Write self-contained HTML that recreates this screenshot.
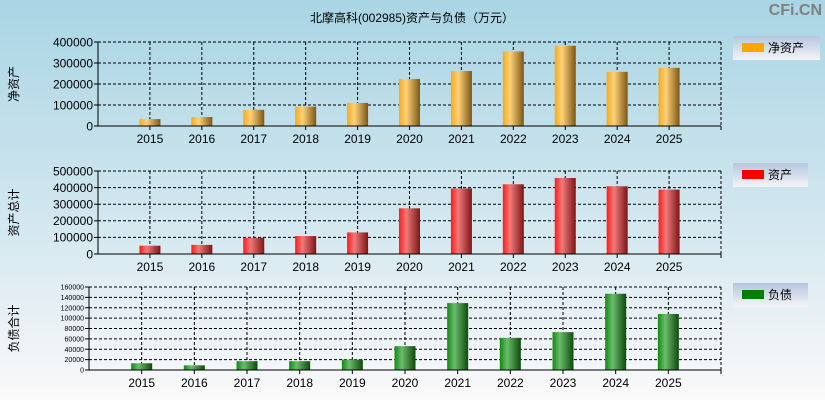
<!DOCTYPE html>
<html><head><meta charset="utf-8"><style>
body{margin:0;width:825px;height:400px;overflow:hidden}
svg{display:block;font-family:"Liberation Sans","Noto Sans CJK SC",sans-serif}
</style></head><body>
<svg id="c" width="825" height="400">
<defs>
<linearGradient id="bg" x1="0" y1="0" x2="0" y2="1"><stop offset="0" stop-color="#a9d5e4"/><stop offset="0.55" stop-color="#d2e7ef"/><stop offset="1" stop-color="#fbf9fa"/></linearGradient>
<linearGradient id="go" x1="0" x2="1"><stop offset="0" stop-color="#f7a91c"/><stop offset="0.35" stop-color="#fdd27a"/><stop offset="1" stop-color="#7d5613"/></linearGradient>
<linearGradient id="gr" x1="0" x2="1"><stop offset="0" stop-color="#ff1a1a"/><stop offset="0.35" stop-color="#f07a7a"/><stop offset="1" stop-color="#7d1515"/></linearGradient>
<linearGradient id="gg" x1="0" x2="1"><stop offset="0" stop-color="#118a11"/><stop offset="0.35" stop-color="#6cbc6c"/><stop offset="1" stop-color="#0d4a0d"/></linearGradient>
<linearGradient id="lg" x1="0" y1="0" x2="0" y2="1"><stop offset="0" stop-color="#b6c6df"/><stop offset="1" stop-color="#f4f4f8"/></linearGradient>
</defs>
<rect width="825" height="400" fill="url(#bg)"/>
<text x="412" y="22" font-size="12" text-anchor="middle">北摩高科(002985)资产与负债（万元）</text>
<text x="822" y="15" font-size="16" font-weight="bold" fill="#808080" text-anchor="end">CFi.CN</text>
</svg>
<script>
const years=["2015","2016","2017","2018","2019","2020","2021","2022","2023","2024","2025"];
const netAssets=[33000,43000,77000,92000,110000,224000,262000,355000,382000,258000,277000];
const totalAssets=[50000,55000,98000,108000,130000,275000,395000,420000,458000,408000,388000];
const liabilities=[13000,9000,17000,17000,20000,46000,129000,62000,73000,147000,108000];
const ticks1=[0,100000,200000,300000,400000];
const ticks2=[0,100000,200000,300000,400000,500000];
const ticks3=[0,20000,40000,60000,80000,100000,120000,140000,160000];
const svg=document.getElementById('c');
const NS='http://www.w3.org/2000/svg';
function mk(t,a,p){const e=document.createElementNS(NS,t);for(const k in a)e.setAttribute(k,a[k]);(p||svg).appendChild(e);return e;}
function panel(o){
  const g=mk('g',{});
  
  
  const x0=o.x0,x1=721,y0=o.y0,y1=o.y1,max=o.ticks[o.ticks.length-1];
  const slot=(x1-x0)/12;
  const X=i=>x0+slot*(i+1);
  const Y=v=>y1-(v/max)*(y1-y0);
  mk('rect',{x:x0,y:y0,width:x1-x0,height:y1-y0,fill:'none'},g);
  o.ticks.forEach(t=>{
    const y=Y(t);
    if(t>0){const l=mk('line',{x1:x0,x2:x1,y1:y,y2:y,stroke:'#000','stroke-dasharray':'3,2'},g);
      }
    mk('line',{x1:x0-4,x2:x0,y1:y,y2:y,stroke:'#000'},g);
    const tx=mk('text',{x:x0-5,y:y+o.fs*0.36,'font-size':o.fs,'text-anchor':'end'},g);tx.textContent=t;
    
  });
  years.forEach((yr,i)=>{
    const x=X(i);
    const l=mk('line',{x1:x,x2:x,y1:y0,y2:y1,stroke:'#000','stroke-dasharray':'3,2'},g);
    
    mk('line',{x1:x,x2:x,y1:y1,y2:y1+4,stroke:'#000'},g);
    const tx=mk('text',{x:x,y:y1+17,'font-size':12,'text-anchor':'middle'},g);tx.textContent=yr;
    
    const v=o.data[i];
    const b=mk('rect',{x:x-10.5,y:Y(v),width:21,height:y1-Y(v),fill:o.fill},g);
    
    
  });
  mk('line',{x1:x1,x2:x1,y1:y0,y2:y1,stroke:'#000','stroke-dasharray':'3,2'},g);
  mk('line',{x1:x0,x2:x1,y1:y0,y2:y0,stroke:'#000','stroke-dasharray':'3,2'},g);
  mk('line',{x1:x0,x2:x0,y1:y0,y2:y1,stroke:'#000'},g);
  mk('line',{x1:x0,x2:x1,y1:y1,y2:y1,stroke:'#000'},g);
  mk('line',{x1:x1,x2:x1,y1:y1,y2:y1+4,stroke:'#000'},g);
  const yt=mk('text',{x:0,y:0,'font-size':12,'text-anchor':'middle',transform:'translate(18,'+((y0+y1)/2)+') rotate(-90)'},g);
  yt.textContent=o.ytitle;
  
  const lg=mk('g',{},g);
  
  mk('rect',{x:733,y:o.ly,width:o.lw,height:24,fill:'url(#lg)'},lg);
  mk('rect',{x:742,y:o.ly+7,width:22,height:9,fill:o.lc},lg);
  const lt=mk('text',{x:768,y:o.ly+16,'font-size':12},lg);lt.textContent=o.label;
}
panel({name:'net-assets',x0:98,y0:42,y1:126,ticks:ticks1,data:netAssets,fill:'url(#go)',fs:12,ytitle:'净资产',label:'净资产',lc:'#ffa500',ly:36,lw:87});
panel({name:'total-assets',x0:98,y0:171,y1:254,ticks:ticks2,data:totalAssets,fill:'url(#gr)',fs:12,ytitle:'资产总计',label:'资产',lc:'#ff0000',ly:163,lw:75});
panel({name:'liabilities',x0:89,y0:287,y1:370,ticks:ticks3,data:liabilities,fill:'url(#gg)',fs:7,ytitle:'负债合计',label:'负债',lc:'#008000',ly:283,lw:75});
</script>
</body></html>
